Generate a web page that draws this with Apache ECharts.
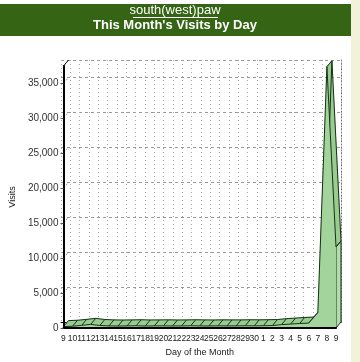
<!DOCTYPE html>
<html><head><meta charset="utf-8">
<script src="https://cdn.jsdelivr.net/npm/echarts@6/dist/echarts.min.js"></script>
<style>html,body{margin:0;padding:0;background:#fff}#c{width:360px;height:362px}</style>
</head><body><div id="c"></div>
<script>
// ---- data ----
const days = ['9','10','11','12','13','14','15','16','17','18','19','20','21','22','23','24','25','26','27','28','29','30','1','2','3','4','5','6','7','8','9'];
const visits = [200,250,380,520,360,300,280,300,320,290,300,310,290,300,320,300,290,310,300,300,320,310,330,350,480,560,650,700,2200,37400,11600];
const yTicks = [0,5000,10000,15000,20000,25000,30000,35000];
const yMax = 37500;
const yStep = 5000;
const titleMain = 'south(west)paw';
const titleSub = "This Month's Visits by Day";

// ---- style ----
const DX = 5, DY = -6;
const EDGE = '#163016';
const FRONT = '#a3d49b';
const RIB = '#98cc90';
const CAP = '#b3dcab';
const FONT = "'Liberation Sans', Arial, sans-serif";
const NARROW = "'Liberation Sans Narrow', 'Arial Narrow', 'Liberation Sans', sans-serif";

const chart = echarts.init(document.getElementById('c'), null, {renderer: 'canvas'});

const fmt = v => v.toLocaleString('en-US');

chart.setOption({
  animation: false,
  backgroundColor: '#ffffff',
  title: [
    {text: titleMain, left: 175, top: 4, padding: 0, textAlign: 'center',
     textStyle: {color: '#ffffff', fontSize: 13, fontWeight: 'normal', fontFamily: FONT}},
    {text: titleSub, left: 175, top: 19, padding: 0, textAlign: 'center',
     textStyle: {color: '#ffffff', fontSize: 13, fontWeight: 'bold', fontFamily: FONT}}
  ],
  graphic: [
    {type: 'rect', z: -1, shape: {x: 0, y: 4, width: 351, height: 32}, style: {fill: '#346414'}},
    {type: 'rect', z: -1, shape: {x: 351, y: 0, width: 9, height: 362}, style: {fill: '#f3f1da'}},
    {type: 'line', z: 10, shape: {x1: 133, y1: 17.5, x2: 218, y2: 17.5}, style: {stroke: '#ffffff', lineWidth: 1}}
  ],
  grid: [
    {left: 56, right: 24, top: 66, bottom: 34},
    {left: 61, right: 19, top: 60, bottom: 40}
  ],
  xAxis: [
    {gridIndex: 0, type: 'category', data: days, boundaryGap: false, z: 5,
     axisLine: {show: true, lineStyle: {color: '#000', width: 2}},
     axisTick: {show: false},
     splitLine: {show: false},
     axisLabel: {interval: 0, fontSize: 8.5, color: '#222', margin: 6, fontFamily: NARROW},
     name: 'Day of the Month', nameLocation: 'middle', nameGap: 20,
     nameTextStyle: {fontSize: 9, color: '#222', fontFamily: FONT}},
    {gridIndex: 1, type: 'category', data: days, boundaryGap: false, position: 'top',
     axisLine: {show: true, lineStyle: {color: '#000', width: 1}},
     axisTick: {show: false}, axisLabel: {show: false},
     splitLine: {show: true, interval: 0, lineStyle: {color: '#a8a8a8', type: [1, 3], width: 1}}}
  ],
  yAxis: [
    {gridIndex: 0, type: 'value', min: 0, max: yMax, interval: yStep, z: 5,
     axisLine: {show: true, lineStyle: {color: '#000', width: 2}},
     axisTick: {show: true, length: 3, lineStyle: {color: '#555'}},
     splitLine: {show: false},
     axisLabel: {formatter: fmt, fontSize: 10, color: '#333', showMaxLabel: false, margin: 5, fontFamily: FONT},
     name: 'Visits', nameLocation: 'middle', nameGap: 40, nameRotate: 90,
     nameTextStyle: {fontSize: 9, color: '#222', fontFamily: FONT}},
    {gridIndex: 1, type: 'value', min: 0, max: yMax, interval: yStep, position: 'right',
     axisLine: {show: true, lineStyle: {color: '#777', type: [1, 2], width: 1}},
     axisTick: {show: false}, axisLabel: {show: false},
     splitLine: {show: true, lineStyle: {color: '#999', type: [3, 3], width: 1}}}
  ],
  series: [
    {type: 'custom', xAxisIndex: 0, yAxisIndex: 0, z: 1, silent: true,
     data: yTicks.concat([yMax]).map(v => [0, v]),
     renderItem: function (params, api) {
       const p = api.coord([0, api.value(1)]);
       const isTop = api.value(1) === yMax;
       return {type: 'line', shape: {x1: p[0], y1: p[1], x2: p[0] + DX, y2: p[1] + DY},
               style: {stroke: isTop ? '#000' : '#999', lineWidth: 1, lineDash: isTop ? null : [2, 2]}};
     }},
    {type: 'custom', xAxisIndex: 0, yAxisIndex: 0, z: 2, silent: true,
     data: visits.map((v, i) => [i, v]),
     encode: {x: 0, y: 1},
     renderItem: function (params, api) {
       const i = api.value(0);
       const n = visits.length;
       const p0 = api.coord([i, api.value(1)]);
       const ch = [];
       if (i < n - 1) {
         const p1 = api.coord([i + 1, visits[i + 1]]);
         ch.push({type: 'polygon', z2: 1,
           shape: {points: [p0, p1, [p1[0] + DX, p1[1] + DY], [p0[0] + DX, p0[1] + DY]]},
           style: {fill: RIB, stroke: RIB, lineWidth: 0.5}});
         ch.push({type: 'line', z2: 3,
           shape: {x1: p0[0] + DX, y1: p0[1] + DY, x2: p1[0] + DX, y2: p1[1] + DY},
           style: {stroke: EDGE, lineWidth: 1}});
       } else {
         const b = api.coord([i, 0]);
         ch.push({type: 'polygon', z2: 2,
           shape: {points: [p0, [p0[0] + DX, p0[1] + DY], [b[0] + DX, b[1] + DY], b]},
           style: {fill: CAP, stroke: EDGE, lineWidth: 1}});
       }
       ch.push({type: 'line', z2: 4,
         shape: {x1: p0[0], y1: p0[1], x2: p0[0] + DX, y2: p0[1] + DY},
         style: {stroke: EDGE, lineWidth: 1}});
       return {type: 'group', children: ch};
     }},
    {type: 'line', xAxisIndex: 0, yAxisIndex: 0, z: 3, data: visits, symbol: 'none', silent: true,
     lineStyle: {color: EDGE, width: 1},
     areaStyle: {color: FRONT, opacity: 1}}
  ]
});
</script>
</body></html>
